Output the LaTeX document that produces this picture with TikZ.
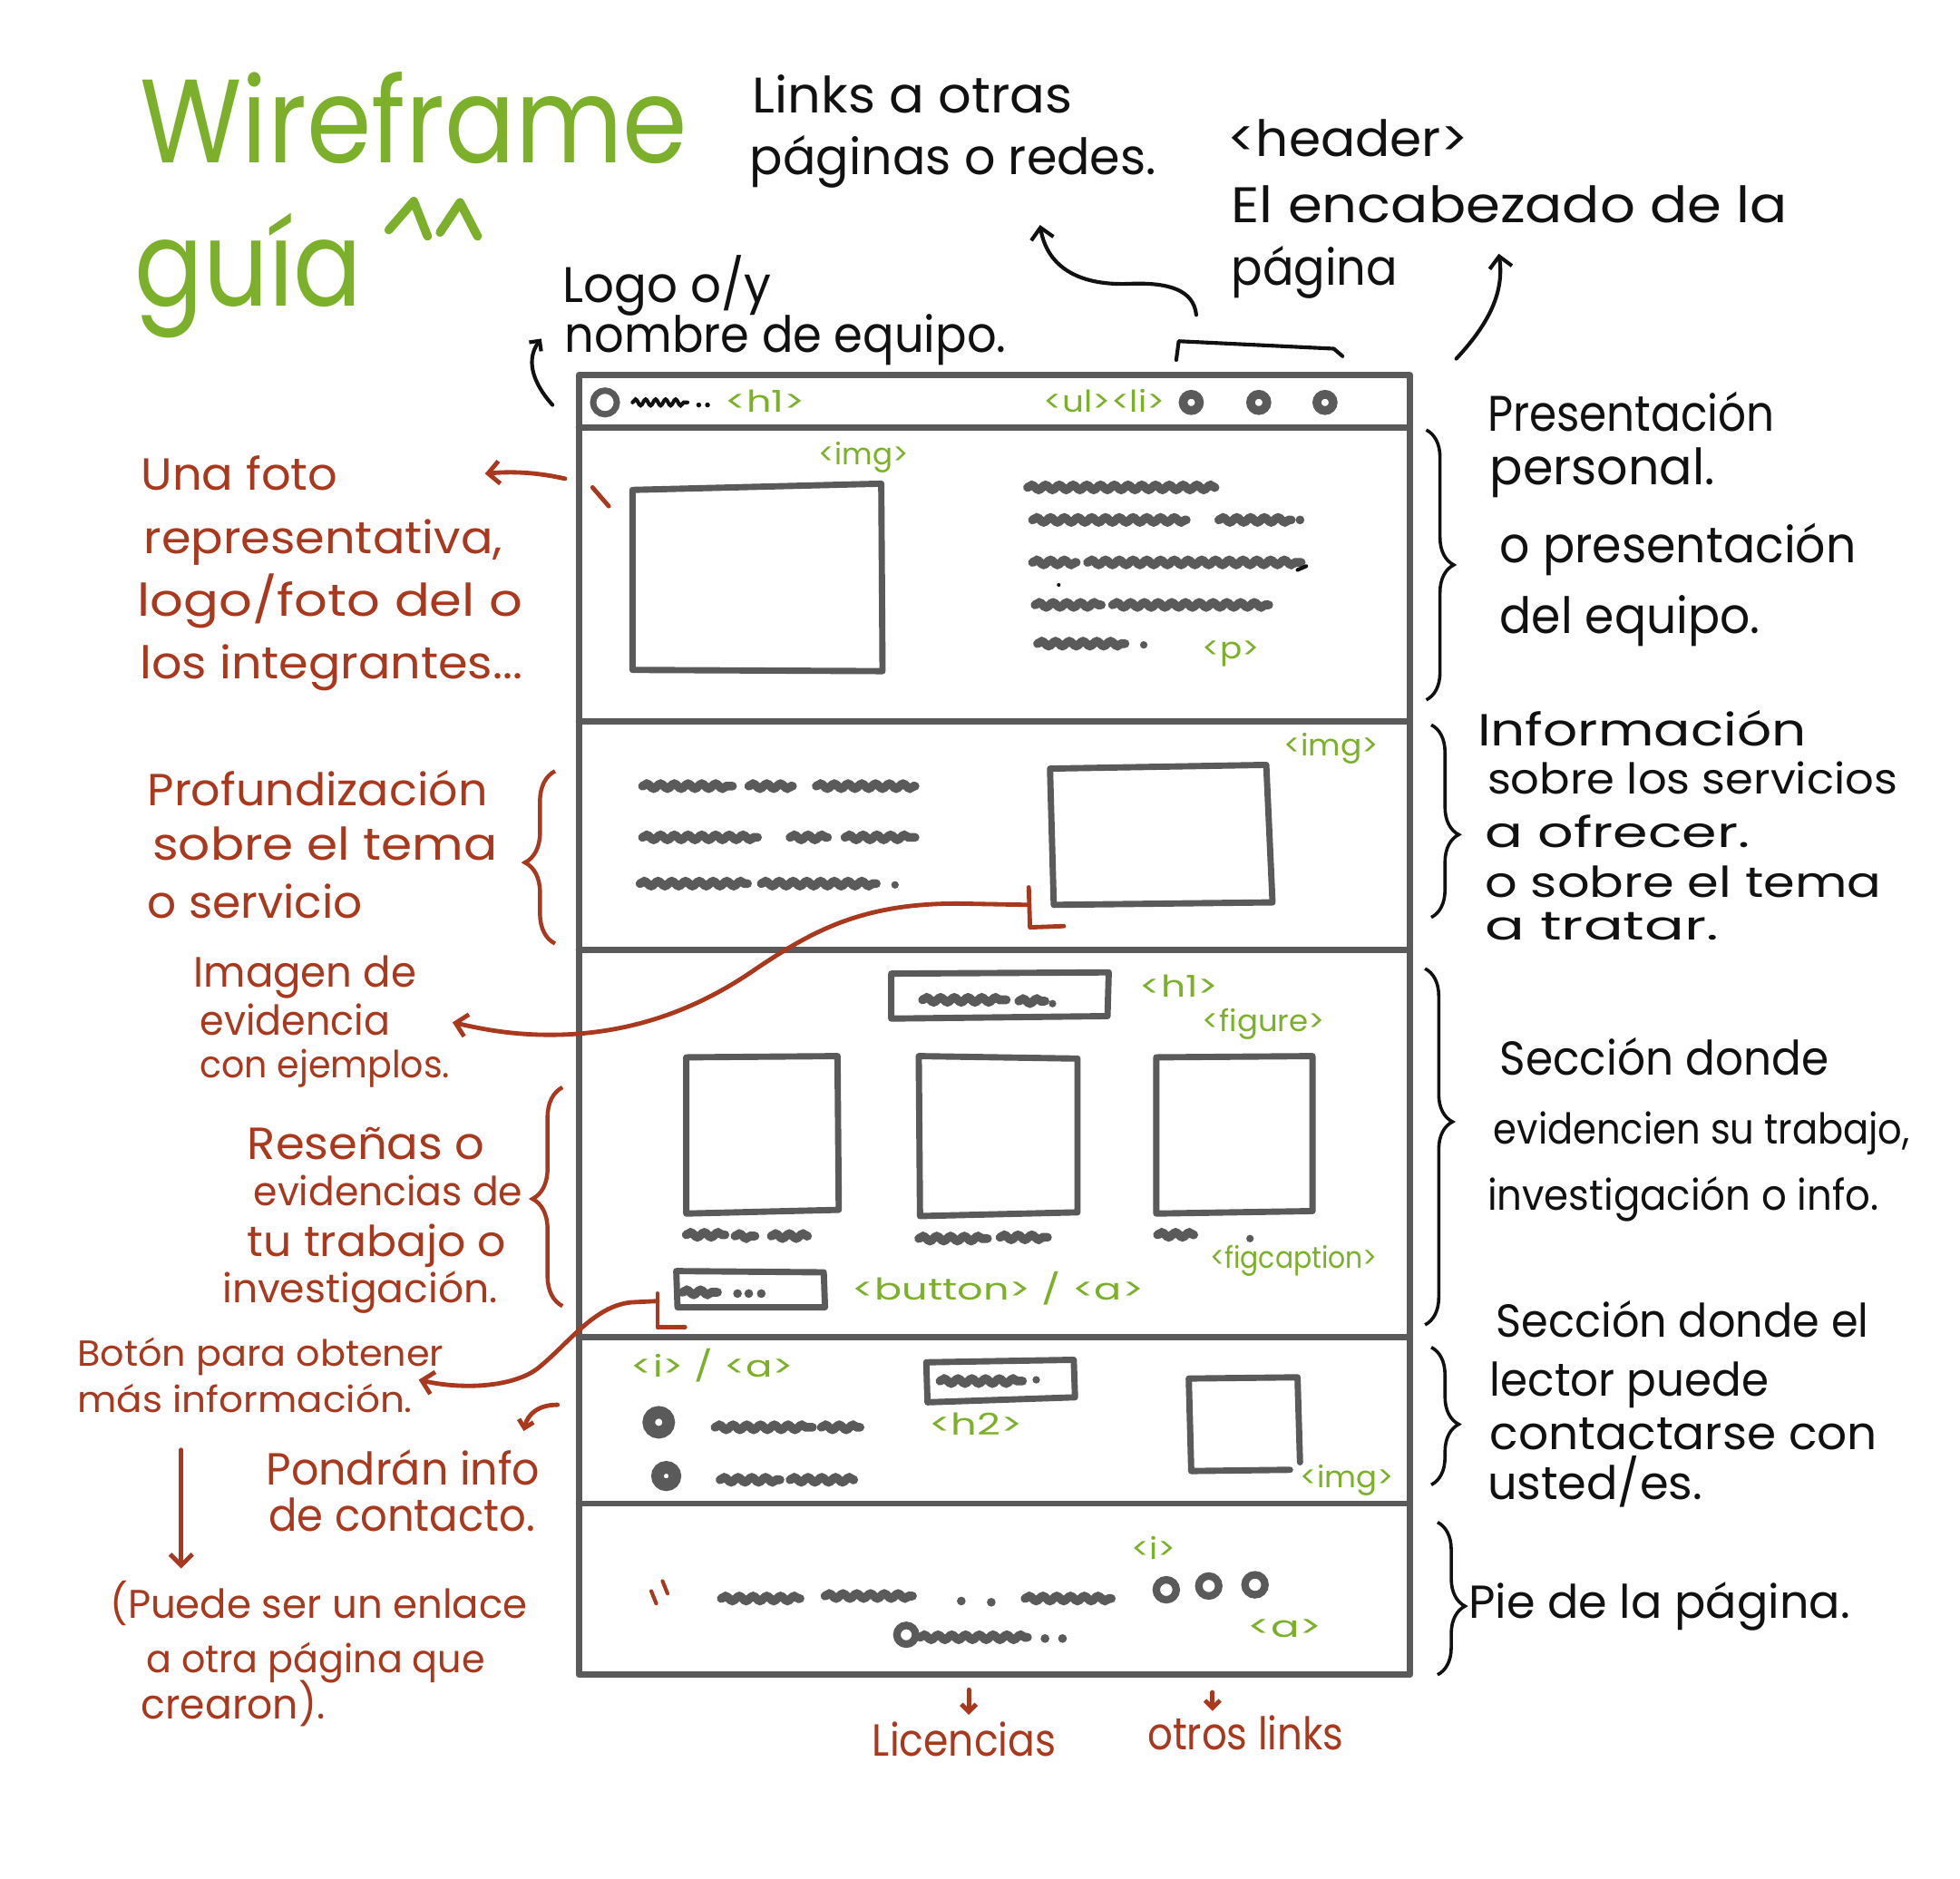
\documentclass[tikz,border=0pt]{standalone}
\usepackage{fontspec}
\setmainfont{Poppins}
\usetikzlibrary{arrows.meta,decorations.pathmorphing,decorations.pathreplacing}
\definecolor{leaf}{HTML}{7DB02A}
\definecolor{brick}{HTML}{A8381E}
\definecolor{pencil}{HTML}{5A5A5A}
\definecolor{ink}{HTML}{111111}
% one text line: name, x, baseline y, width, style, text
\newcommand\lbl[6]{\node[#5] (#1) at (#2,#3) {\resizebox{#4pt}{\height}{#6}};}
\begin{document}
\begin{tikzpicture}[x=1pt,y=-1pt,
  txt/.style={anchor=base west, inner sep=0pt, outer sep=0pt},
  fs/.style={font=\fontsize{#1}{#1}\selectfont},
  ttl/.style={txt, text=leaf, fs=95},
  blk/.style={txt, text=ink, fs=40},
  rnote/.style={txt, text=brick, fs=36},
  rsmall/.style={txt, text=brick, fs=29},
  tag/.style={txt, text=leaf, fs=24},
  frame/.style={pencil, line width=5pt, line cap=round, line join=round},
  scrib/.style={pencil, line width=7pt, line cap=round, decorate, decoration={snake, amplitude=1.8pt, segment length=11pt}},
  inkline/.style={ink, line width=3pt, line cap=round, line join=round},
  brickline/.style={brick, line width=3.5pt, line cap=round, line join=round},
  barb/.style={-{Straight Barb[length=9pt,width=18pt]}},
  smallbarb/.style={-{Straight Barb[length=6pt,width=12pt]}},
  rbrace/.style={decorate, decoration={brace, amplitude=22pt, aspect=#1}, ink, line width=2.6pt},
  lbrace/.style={decorate, decoration={brace, amplitude=24pt, aspect=#1}, brick, line width=3.2pt},
]
\fill[white] (0,0) rectangle (1568,1503);
\useasboundingbox (0,0) rectangle (1568,1503);

% ---------- title ----------
\lbl{ttlA}{112}{130}{438}{ttl}{Wireframe}
\lbl{ttlB}{108}{245}{182}{ttl}{guía}
\draw[leaf, line width=7pt, line cap=round, line join=round]
  (311,184) -- (331,161) -- (342,189) (352,186) -- (368,162) -- (382,189);

% ---------- wireframe frame ----------
\coordinate (fTL) at (463,300);
\coordinate (fBR) at (1128,1340);
\draw[frame] (fTL) rectangle (fBR);
\foreach \yy in {342,577,760,1070,1203}
  \draw[frame] (463,\yy) -- (1128,\yy);

% header row
\draw[pencil, line width=5pt] (484,322) circle (9.5);
\draw[ink, line width=3pt, line cap=round, decorate, decoration={snake, amplitude=2.5pt, segment length=8pt}] (506,322) -- (550,322);
\fill[ink] (559,324) circle (2) (566,324) circle (2);
\lbl{hA}{580}{330}{64}{tag}{<h1>}
\lbl{hB}{835}{330}{97}{tag}{<ul><li>}
\foreach \xx in {953,1007,1060}
  \draw[pencil, line width=7pt] (\xx,322) circle (6.5);

% section 1
\draw[frame] (506,392) -- (705,387) -- (706,537) -- (506,536) -- cycle;
\lbl{sA}{655}{372}{72}{tag}{<img>}
\draw[scrib] (822,390) -- (972,390);
\draw[scrib] (826,416) -- (949,416);  \draw[scrib] (975,416) -- (1033,416);
\fill[pencil] (1040,416) circle (3.5);
\draw[scrib] (826,450) -- (861,450);  \draw[scrib] (870,450) -- (1041,450);
\draw[ink, line width=3pt, line cap=round] (1038,456) -- (1045,453);
\fill[ink] (847,468) circle (1.5);
\draw[scrib] (828,484) -- (881,484);  \draw[scrib] (890,484) -- (1015,484);
\draw[scrib] (830,515) -- (900,515);  \fill[pencil] (915,516) circle (3);
\lbl{sB}{962}{527}{46}{tag}{<p>}

% section 2
\draw[scrib] (514,629) -- (586,629); \draw[scrib] (599,629) -- (634,629); \draw[scrib] (653,629) -- (732,629);
\draw[scrib] (514,670) -- (606,670); \draw[scrib] (632,670) -- (662,670); \draw[scrib] (676,670) -- (732,670);
\draw[scrib] (512,707) -- (598,707); \draw[scrib] (609,707) -- (701,707); \fill[pencil] (716,708) circle (3);
\draw[frame] (840,615) -- (1013,612) -- (1018,722) -- (843,724) -- cycle;
\lbl{sC}{1027}{605}{76}{tag}{<img>}

% section 3
\draw[frame] (713,779) -- (887,778) -- (886,813) -- (713,815) -- cycle;
\draw[scrib] (738,800) -- (805,800); \draw[scrib] (815,801) -- (836,801); \fill[pencil] (842,803) circle (3);
\lbl{sD}{912}{798}{63}{tag}{<h1>}
\lbl{sE}{962}{825}{98}{tag}{<figure>}
\draw[frame] (549,846) -- (670,845) -- (671,968) -- (549,971) -- cycle;
\draw[frame] (735,845) -- (862,847) -- (862,970) -- (736,973) -- cycle;
\draw[frame] (925,846) -- (1050,845) -- (1050,969) -- (925,971) -- cycle;
\draw[scrib] (549,988) -- (580,988); \draw[scrib] (588,989) -- (604,989); \draw[scrib] (617,989) -- (646,989);
\draw[scrib] (735,991) -- (790,991); \draw[scrib] (800,990) -- (838,990);
\draw[scrib] (926,988) -- (955,988); \fill[pencil] (1000,991) circle (3);
\lbl{sF}{968}{1015}{134}{tag}{<figcaption>}
\draw[frame] (541,1017) -- (659,1018) -- (660,1046) -- (542,1046) -- cycle;
\draw[scrib] (546,1034) -- (574,1034);
\fill[pencil] (590,1035) circle (3.5) (599,1035) circle (3.5) (609,1035) circle (3.5);
\lbl{sG}{682}{1040}{233}{tag}{<button> / <a>}

% section 4
\lbl{sH}{505}{1102}{130}{tag}{<i> / <a>}
\draw[pencil, line width=10pt] (527,1138) circle (8);
\draw[pencil, line width=10pt] (533,1181) circle (7);
\draw[scrib] (572,1142) -- (650,1142); \draw[scrib] (657,1142) -- (688,1142);
\draw[scrib] (576,1184) -- (624,1184); \draw[scrib] (632,1184) -- (683,1184);
\draw[frame] (741,1090) -- (859,1088) -- (860,1118) -- (742,1122) -- cycle;
\draw[scrib] (752,1105) -- (818,1105); \fill[pencil] (829,1104) circle (3);
\lbl{sI}{743}{1148}{75}{tag}{<h2>}
\draw[frame] (1040,1170) -- (1038,1102) -- (951,1103) -- (953,1177) -- (1032,1176);
\lbl{sJ}{1040}{1190}{75}{tag}{<img>}

% section 5 (footer)
\draw[brick, line width=3pt, line cap=round] (521,1273) -- (525,1283) (530,1265) -- (534,1275);
\draw[scrib] (577,1279) -- (640,1279); \draw[scrib] (660,1277) -- (730,1277);
\fill[pencil] (769,1281) circle (3.5) (793,1282) circle (3.5);
\draw[scrib] (820,1279) -- (889,1279);
\foreach \xx/\yy in {933/1272,967/1269,1004/1268}
  \draw[pencil, line width=6pt] (\xx,\yy) circle (8);
\lbl{sK}{905}{1248}{36}{tag}{<i>}
\draw[pencil, line width=6pt] (725,1308) circle (7.5);
\draw[scrib] (736,1310) -- (822,1310);
\fill[pencil] (836,1311) circle (3.5) (850,1311) circle (3.5);
\lbl{sL}{998}{1310}{60}{tag}{<a>}

% ---------- top annotations (black) ----------
\lbl{nA}{602}{90}{256}{blk}{Links a otras}
\lbl{nB}{600}{140}{325}{blk}{páginas o redes.}
\lbl{nC}{982}{125}{193}{blk}{<header>}
\lbl{nD}{985}{178}{445}{blk}{El encabezado de la}
\lbl{nE}{985}{228}{133}{blk}{página}
\lbl{nF}{450}{242}{167}{blk}{Logo o/y}
\lbl{nG}{452}{282}{353}{blk}{nombre de equipo.}

\coordinate (linksEnd) at (832,180);
\coordinate (navTop) at (957,252);
\draw[inkline, barb] (navTop) .. controls (955,232) and (935,226) .. (905,227)
  .. controls (865,229) and (838,215) .. (linksEnd);
\coordinate (hdrFoot) at (1165,287);
\coordinate (hdrEnd) at (1199,203);
\draw[inkline, barb] (hdrFoot) .. controls (1195,255) and (1203,230) .. (hdrEnd);
\coordinate (navL) at (941,288);
\coordinate (navR) at (1074,285);
\draw[inkline] (navL) -- (943,273) -- (1067,279) -- (navR);
\coordinate (logoFoot) at (442,324);
\coordinate (logoEnd) at (433,271);
\draw[inkline, smallbarb] (logoFoot) .. controls (425,305) and (421,287) .. (logoEnd);

% ---------- right annotations (black) ----------
\lbl{rA}{1190}{345}{230}{blk}{Presentación}
\lbl{rB}{1192}{388}{180}{blk}{personal.}
\lbl{rC}{1200}{450}{285}{blk}{o presentación}
\lbl{rD}{1200}{507}{208}{blk}{del equipo.}
\lbl{rE}{1182}{597}{263}{blk,fs=36}{Información}
\lbl{rF}{1190}{635}{328}{blk,fs=34}{sobre los servicios}
\lbl{rG}{1188}{678}{212}{blk,fs=34}{a ofrecer.}
\lbl{rH}{1188}{718}{317}{blk,fs=34}{o sobre el tema}
\lbl{rI}{1188}{752}{187}{blk,fs=32}{a tratar.}
\lbl{rJ}{1200}{860}{263}{blk,fs=38}{Sección donde}
\lbl{rK}{1195}{915}{333}{blk,fs=34}{evidencien su trabajo,}
\lbl{rL}{1190}{968}{313}{blk,fs=34}{investigación o info.}
\lbl{rM}{1197}{1070}{298}{blk,fs=37}{Sección donde el}
\lbl{rN}{1192}{1117}{223}{blk,fs=37}{lector puede}
\lbl{rO}{1192}{1160}{310}{blk,fs=37}{contactarse con}
\lbl{rP}{1190}{1200}{172}{blk,fs=37}{usted/es.}
\lbl{rQ}{1175}{1295}{305}{blk,fs=37}{Pie de la página.}

\draw[rbrace=0.5]  (1141,344) -- (1141,560);
\draw[rbrace=0.57] (1145,580) -- (1145,734);
\draw[rbrace=0.43] (1140,775) -- (1140,1060);
\draw[rbrace=0.56] (1145,1078) -- (1145,1188);
\draw[rbrace=0.55] (1150,1218) -- (1150,1340);

% ---------- left annotations (red) ----------
\lbl{lA}{113}{392}{157}{rnote}{Una foto}
\lbl{lB}{115}{443}{287}{rnote}{representativa,}
\lbl{lC}{110}{493}{308}{rnote}{logo/foto del o}
\lbl{lD}{112}{543}{306}{rnote}{los integrantes...}
\coordinate (fotoStart) at (452,383);
\coordinate (fotoEnd) at (388,379);
\draw[brickline, barb] (fotoStart) .. controls (430,378) and (410,377) .. (fotoEnd);
\draw[brickline] (474,390) -- (487,405);

\lbl{lE}{118}{645}{272}{rnote}{Profundización}
\lbl{lF}{122}{688}{276}{rnote}{sobre el tema}
\lbl{lG}{118}{735}{172}{rnote}{o servicio}
\draw[lbrace=0.47] (444,755) -- (444,617);

\lbl{lH}{155}{790}{178}{rnote,fs=34}{Imagen de}
\lbl{lI}{160}{828}{152}{rnote,fs=33}{evidencia}
\lbl{lJ}{160}{862}{200}{rnote,fs=30}{con ejemplos.}
\coordinate (evHook) at (823,724);
\coordinate (evEnd) at (362,818);
\draw[brickline] (823,710) -- (824,742) -- (851,741);
\draw[brickline, barb] (evHook) -- (770,723) .. controls (690,722) and (650,745) .. (605,775)
  .. controls (555,810) and (500,828) .. (440,828)
  .. controls (405,828) and (380,822) .. (evEnd);

\lbl{lK}{198}{928}{190}{rnote}{Reseñas o}
\lbl{lL}{203}{965}{215}{rnote,fs=32}{evidencias de}
\lbl{lM}{198}{1005}{207}{rnote,fs=34}{tu trabajo o}
\lbl{lN}{178}{1042}{220}{rnote,fs=32}{investigación.}
\draw[lbrace=0.49] (450,1045) -- (450,870);

\lbl{lO}{62}{1093}{293}{rsmall}{Botón para obtener}
\lbl{lP}{62}{1130}{268}{rsmall}{más información.}
\coordinate (btnHook) at (526,1041);
\coordinate (btnEnd) at (335,1104);
\draw[brickline] (526,1035) -- (526,1062) -- (548,1062);
\draw[brickline, barb] (btnHook) -- (505,1042) .. controls (475,1045) and (455,1075) .. (430,1095)
  .. controls (410,1110) and (370,1112) .. (btnEnd);

\coordinate (btnDownA) at (145,1160);
\coordinate (btnDownB) at (145,1255);
\draw[brickline, barb] (btnDownA) -- (btnDownB);

\lbl{lQ}{213}{1188}{219}{rnote}{Pondrán info}
\lbl{lR}{215}{1225}{213}{rnote}{de contacto.}
\coordinate (ctA) at (446,1124);
\coordinate (ctB) at (419,1145);
\draw[brickline, smallbarb] (ctA) .. controls (430,1124) and (422,1132) .. (ctB);

\lbl{lS}{88}{1295}{334}{rnote,fs=32}{(Puede ser un enlace}
\lbl{lT}{117}{1338}{271}{rnote,fs=31}{a otra página que}
\lbl{lU}{113}{1375}{147}{rnote,fs=33}{crearon).}

% ---------- below the frame ----------
\coordinate (licA) at (775,1352);
\coordinate (licB) at (775,1372);
\draw[brickline, smallbarb] (licA) -- (licB);
\coordinate (otrA) at (970,1354);
\coordinate (otrB) at (970,1369);
\draw[brickline, smallbarb] (otrA) -- (otrB);
\lbl{bA}{698}{1405}{147}{rnote}{Licencias}
\lbl{bB}{918}{1400}{157}{rnote}{otros links}
\end{tikzpicture}
\end{document}
